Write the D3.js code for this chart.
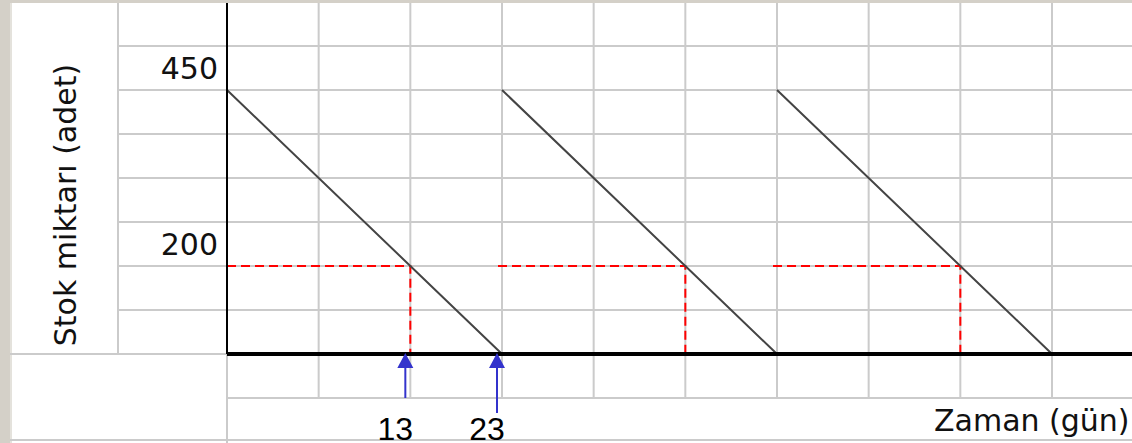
<!DOCTYPE html>
<html>
<head>
<meta charset="utf-8">
<script src="https://cdn.jsdelivr.net/npm/d3@7"></script>
<style>
  html, body { margin: 0; padding: 0; background: #d4d0c8; }
  svg { display: block; }
</style>
</head>
<body>
<div id="chart"></div>
<script>
// stock levels (adet)
const maxStock = 450;
const reorderLevel = 200;
// days (gün)
const cycleStarts = [0, 23, 46];
const reorderDays = [13, 36, 59];
const cycleEnds = [23, 46, 69];
const yTicks = [200, 450];
const xMarks = [13, 23];

(function(){
    const W = 1132, H = 443;
    const x0 = 227, axisY = 354, top = 3;
    const cellW = 825 / 9, rowH = 44;
    const gridCol = "#cbcbcb";

    const svg = d3.select("#chart").append("svg")
        .attr("width", W)
        .attr("height", H);

    // sheet background
    svg.append("rect")
        .attr("x", 10).attr("y", top)
        .attr("width", W - 10).attr("height", H - top)
        .attr("fill", "#ffffff");
    svg.append("line")
        .attr("x1", 11).attr("x2", 11).attr("y1", top).attr("y2", H)
        .attr("stroke", "#e4e2dc").attr("stroke-width", 2);

    // scales: the drawing is schematic, so both are piecewise
    const days = [], cells = [];
    cycleStarts.forEach(function(s, i) {
        if (i === 0) { days.push(s); cells.push(0); }
        days.push(reorderDays[i]); cells.push(3 * i + 2);
        days.push(cycleEnds[i]); cells.push(3 * i + 3);
    });
    const x = d3.scaleLinear()
        .domain(days)
        .range(cells.map(function(c) { return x0 + c * cellW; }));
    const y = d3.scaleLinear()
        .domain([0, reorderLevel, maxStock])
        .range([axisY, axisY - 2 * rowH, axisY - 6 * rowH]);

    // ****************** grid ***************************
    const grid = svg.append("g")
        .attr("stroke", gridCol)
        .attr("stroke-width", 2);

    // vertical lines in the plot area
    for (let k = 1; x0 + k * cellW < W; k++) {
        grid.append("line")
            .attr("x1", x0 + k * cellW).attr("x2", x0 + k * cellW)
            .attr("y1", top).attr("y2", axisY + rowH);
    }
    // horizontal rows above the axis
    for (let k = 1; axisY - k * rowH > top; k++) {
        grid.append("line")
            .attr("x1", 118).attr("x2", W)
            .attr("y1", axisY - k * rowH).attr("y2", axisY - k * rowH);
    }
    grid.append("line")
        .attr("x1", x0).attr("x2", W)
        .attr("y1", axisY + rowH).attr("y2", axisY + rowH);
    grid.append("line")
        .attr("x1", 10).attr("x2", x0)
        .attr("y1", axisY).attr("y2", axisY);
    grid.append("line")
        .attr("x1", 118).attr("x2", 118)
        .attr("y1", top).attr("y2", axisY);
    grid.append("line")
        .attr("x1", x0).attr("x2", x0)
        .attr("y1", axisY).attr("y2", H);
    grid.append("line")
        .attr("x1", 10).attr("x2", W)
        .attr("y1", H - 3).attr("y2", H - 3);

    // ****************** reorder guides ***************************
    const guides = svg.append("g")
        .attr("stroke", "#ff0000")
        .attr("stroke-width", 2)
        .attr("stroke-dasharray", "9,5")
        .attr("fill", "none");
    reorderDays.forEach(function(d, i) {
        const xs = i === 0 ? x(cycleStarts[i]) : x(cycleStarts[i]) - 4;
        guides.append("path")
            .attr("d", "M" + xs + "," + y(reorderLevel) +
                       "H" + x(d) + "V" + y(0));
    });

    // ****************** stock lines ***************************
    const line = d3.line()
        .x(function(p) { return x(p[0]); })
        .y(function(p) { return y(p[1]); });
    cycleStarts.forEach(function(s, i) {
        svg.append("path")
            .attr("d", line([[s, maxStock], [reorderDays[i], reorderLevel], [cycleEnds[i], 0]]))
            .attr("fill", "none")
            .attr("stroke", "#444")
            .attr("stroke-width", 2);
    });

    // ****************** axes ***************************
    svg.append("line")
        .attr("x1", x0).attr("x2", x0)
        .attr("y1", top).attr("y2", axisY)
        .attr("stroke", "#000").attr("stroke-width", 2);
    svg.append("line")
        .attr("x1", x0).attr("x2", W)
        .attr("y1", axisY).attr("y2", axisY)
        .attr("stroke", "#000").attr("stroke-width", 4);

    const yAxis = svg.append("g")
        .attr("transform", "translate(" + x0 + ",0)")
        .call(d3.axisLeft(y).tickValues(yTicks).tickSize(0).tickPadding(9));
    yAxis.select(".domain").remove();
    yAxis.selectAll("text")
        .attr("dy", "-12px")
        .style("font-family", "'DejaVu Sans', sans-serif")
        .style("font-size", "30px")
        .attr("fill", "#111");

    // axis titles
    svg.append("text")
        .attr("transform", "translate(76,205) rotate(-90)")
        .attr("text-anchor", "middle")
        .style("font-family", "'DejaVu Sans', sans-serif")
        .style("font-size", "30px")
        .attr("fill", "#111")
        .text("Stok miktarı (adet)");
    svg.append("text")
        .attr("x", 934).attr("y", 431)
        .style("font-family", "'DejaVu Sans', sans-serif")
        .style("font-size", "30px")
        .attr("fill", "#111")
        .text("Zaman (gün)");

    // ****************** arrows ***************************
    const blue = "#3333cc";
    xMarks.forEach(function(d, i) {
        const ax = x(d) - 5;
        const tip = axisY - 1;
        svg.append("line")
            .attr("x1", ax).attr("x2", ax)
            .attr("y1", i === 0 ? axisY + rowH : axisY + rowH + 15)
            .attr("y2", tip + 10)
            .attr("stroke", blue).attr("stroke-width", 2);
        svg.append("path")
            .attr("d", "M" + ax + "," + tip + "L" + (ax + 8) + "," + (tip + 15) +
                       "L" + (ax - 8) + "," + (tip + 15) + "Z")
            .attr("fill", blue);
        svg.append("text")
            .attr("x", ax - 10).attr("y", 440)
            .attr("text-anchor", "middle")
            .style("font-family", "'Liberation Sans', Arial, sans-serif")
            .style("font-size", "32px")
            .attr("fill", "#000")
            .text(d);
    });
})();
</script>
</body>
</html>
